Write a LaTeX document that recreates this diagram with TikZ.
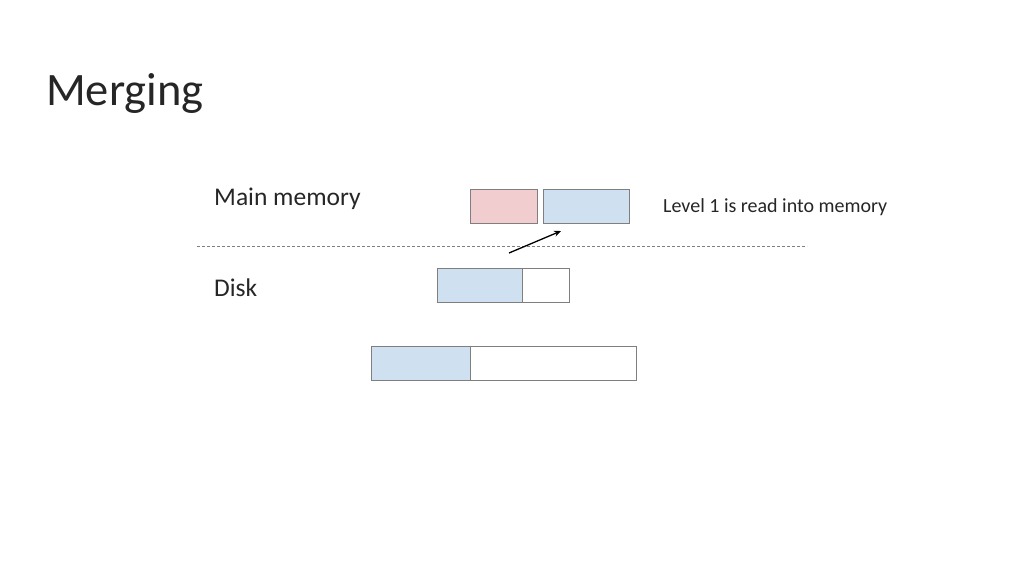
\documentclass[tikz,border=0pt]{standalone}
\usepackage{fontspec}
\setmainfont{Carlito}
\usetikzlibrary{arrows.meta}
\definecolor{pinkf}{HTML}{F2CDD0}
\definecolor{bluef}{HTML}{CFE0F1}
\definecolor{edgec}{HTML}{7F7F7F}
\definecolor{txt}{HTML}{262626}
\begin{document}
\begin{tikzpicture}[x=1pt,y=-1pt,
  cell/.style={draw=edgec,line width=0.9pt,inner sep=0pt,outer sep=0pt,anchor=north west},
  lbl/.style={text=txt,anchor=base west,inner sep=0pt}]
\useasboundingbox (0,0) rectangle (1024,576);
\node[lbl,font=\fontsize{46.5}{50}\selectfont] (title) at (46,105) {Merging};
\node[lbl,font=\fontsize{25.5}{28}\selectfont] (mm) at (214,205) {Main memory};
\node[lbl,font=\fontsize{25.5}{28}\selectfont] (disk) at (214,296) {Disk};
\node[lbl,font=\fontsize{20}{24}\selectfont] (note) at (663,212) {Level 1 is read into memory};
% memory
\node[cell,fill=pinkf,minimum width=67pt,minimum height=34pt] (p1) at (470,189) {};
\node[cell,fill=bluef,minimum width=86pt,minimum height=34pt] (m1) at (543,189) {};
% divider
\coordinate (dl) at (197,246);
\coordinate (dr) at (807,246);
\draw[edgec,line width=0.7pt,dash pattern=on 3pt off 2pt] (dl) -- (dr);
% disk level 1
\node[cell,fill=bluef,minimum width=85pt,minimum height=34pt] (d1a) at (437,268) {};
\node[cell,fill=white,minimum width=47pt,minimum height=34pt] (d1b) at (522,268) {};
% disk level 2
\node[cell,fill=bluef,minimum width=99pt,minimum height=34pt] (d2a) at (371,346) {};
\node[cell,fill=white,minimum width=166pt,minimum height=34pt] (d2b) at (470,346) {};
% arrow
\coordinate (as) at (509,253);
\coordinate (ae) at (561,231);
\draw[-{Stealth[length=7pt,width=6pt]},line width=1.3pt,black] (as) -- (ae);
\end{tikzpicture}
\end{document}
